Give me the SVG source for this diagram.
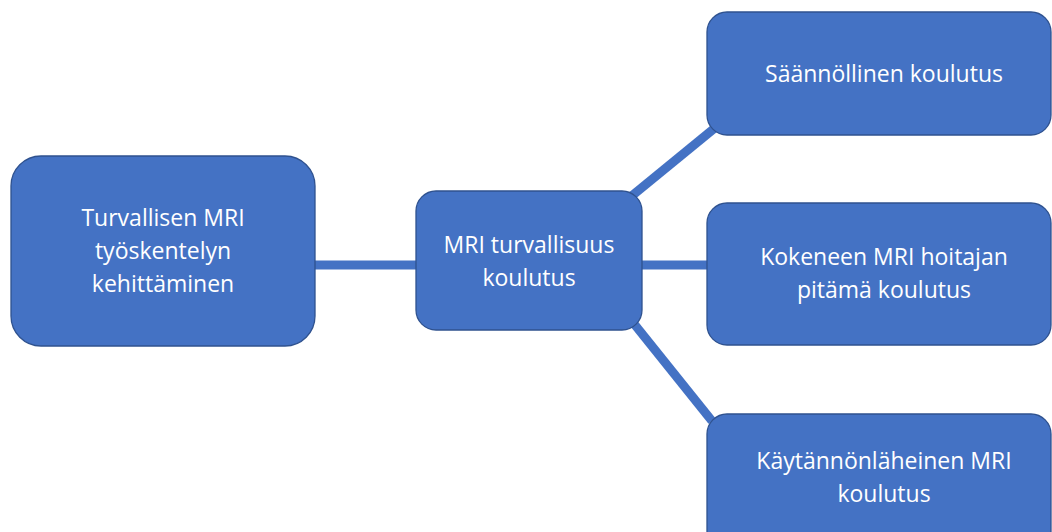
<svg xmlns="http://www.w3.org/2000/svg" width="1052" height="532" viewBox="0 0 1052 532">
<style>
.box{fill:#4472C4;stroke:#2F528F;stroke-width:1.3}
.lbl{fill:#FFFFFF;font-family:"Open Sans","Liberation Sans",sans-serif;font-size:23px;text-anchor:middle}
.con{stroke:#4472C4;stroke-width:9;fill:none}
</style>
<rect width="1052" height="532" fill="#FFFFFF"/>
<g id="connectors">
<line class="con" x1="315" y1="265" x2="416" y2="265"/>
<line class="con" x1="642" y1="265" x2="707" y2="265"/>
<line class="con" x1="628" y1="199" x2="716" y2="127"/>
<line class="con" x1="631" y1="320" x2="712" y2="421"/>
</g>
<g id="n1">
<rect class="box" x="11" y="156" width="304" height="190" rx="30"/>
<text class="lbl" x="163" y="226">Turvallisen MRI</text>
<text class="lbl" x="163" y="259">työskentelyn</text>
<text class="lbl" x="163" y="292">kehittäminen</text>
</g>
<g id="n2">
<rect class="box" x="416" y="191" width="226" height="139" rx="20"/>
<text class="lbl" x="529" y="253">MRI turvallisuus</text>
<text class="lbl" x="529" y="286">koulutus</text>
</g>
<g id="n3">
<rect class="box" x="707" y="12" width="344" height="123" rx="20"/>
<text class="lbl" x="884" y="82">Säännöllinen koulutus</text>
</g>
<g id="n4">
<rect class="box" x="707" y="203" width="344" height="142" rx="20"/>
<text class="lbl" x="884" y="265">Kokeneen MRI hoitajan</text>
<text class="lbl" x="884" y="298">pitämä koulutus</text>
</g>
<g id="n5">
<rect class="box" x="707" y="414" width="344" height="140" rx="20"/>
<text class="lbl" x="884" y="469">Käytännönläheinen MRI</text>
<text class="lbl" x="884" y="502">koulutus</text>
</g>
</svg>
